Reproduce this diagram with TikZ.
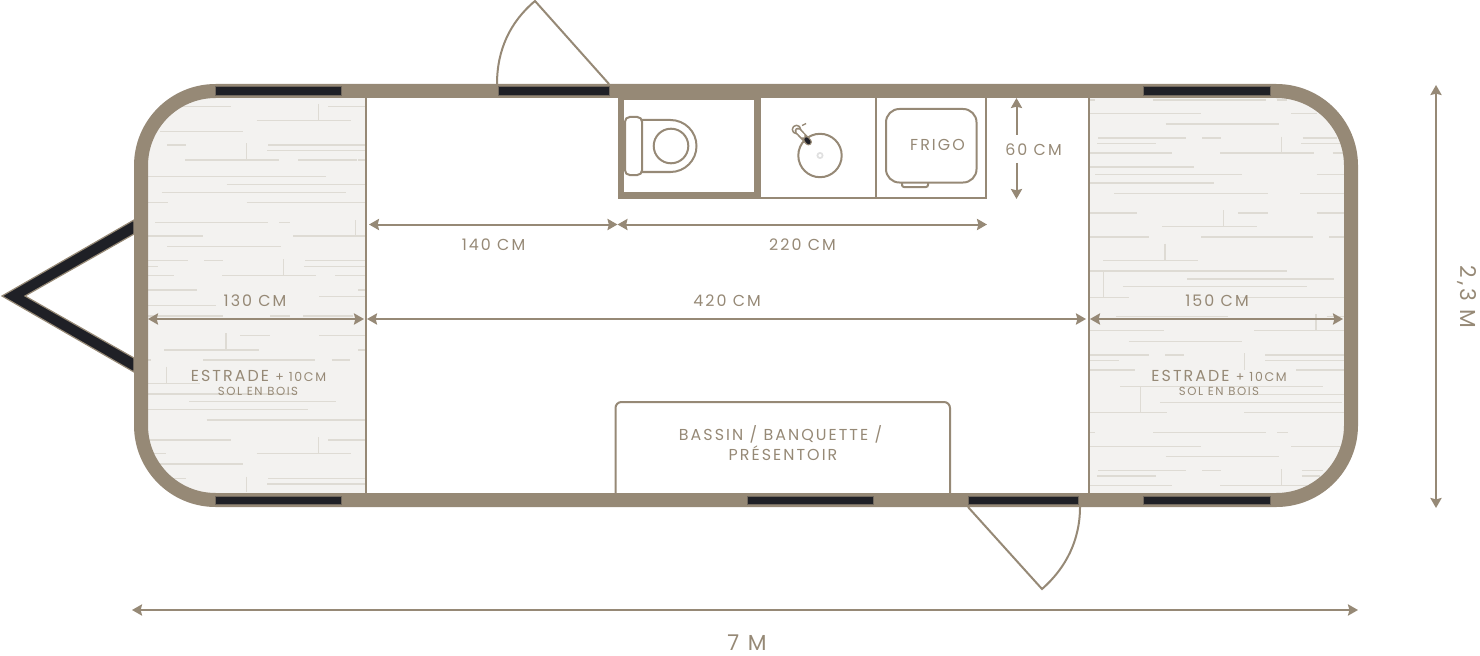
\documentclass[tikz,border=0pt]{standalone}
\usepackage{fontspec}
\setmainfont{Poppins}[LetterSpace=13]
\usetikzlibrary{arrows.meta}
\definecolor{wall}{HTML}{968976}
\definecolor{glass}{HTML}{1F2026}
\definecolor{floorbg}{HTML}{F3F2F0}
\definecolor{plankline}{HTML}{DEDBD4}
\tikzset{dimtip/.tip={Stealth[length=7.5pt, width=8.4pt, inset=1pt]}}
\begin{document}
\begin{tikzpicture}[
						x=0.75pt, y=-0.75pt,
						shell/.style = {draw=wall, line width=10.5pt, rounded corners=56pt},
						plank/.style = {draw=plankline, line width=0.85pt},
						window/.style = {fill=glass, draw=wall!70!glass, line width=0.3pt},
						partition/.style = {draw=wall, line width=1.5pt},
						fitting/.style = {draw=wall, line width=1.5pt},
						dim/.style = {draw=wall, line width=1.5pt, dimtip-dimtip},
						halfdim/.style = {draw=wall, line width=1.5pt, -dimtip},
						label/.style = {text=wall, font=\fontsize{11.9}{13}\selectfont, inner sep=0pt},
						small/.style = {text=wall, font=\fontsize{8.8}{10}\selectfont, inner sep=0pt},
						large/.style = {text=wall, font=\fontsize{16.3}{18}\selectfont, inner sep=0pt}
					]
\useasboundingbox (0,0) rectangle (1480,656);

% floor of both platforms
\begin{scope}
\clip[rounded corners=56pt] (141,91) rectangle (1351,500);
\fill[floorbg] (141,91) rectangle (366,500);
\fill[floorbg] (1089,91) rectangle (1351,500);
\begin{scope}[shift={(0,80)}, x=0.25pt, y=-0.25pt]
\foreach \py/\pa/\pb in {80/530/692, 80/985/1095, 122/770/1053, 154/480/730, 195/502/557, 195/805/1095, 212/802/1095, 240/555/838, 240/895/1070, 240/1075/1095, 290/443/977, 313/680/1095, 338/485/1037, 368/443/505, 368/740/1095, 428/465/803, 428/838/870, 468/443/610, 468/880/1095, 500/502/842, 542/443/565, 542/613/668, 542/915/1095, 560/443/475, 560/912/1095, 587/443/523, 587/667/948, 587/1005/1095, 630/443/590, 630/1075/1095}
	\draw[plank] (\pa,\py) -- (\pb,\py);
\foreach \px/\pa/\pb in {955/72/122, 740/190/240, 1066/420/468, 851/537/587}
	\draw[plank] (\px,\pa) -- (\px,\pb);
\end{scope}
\begin{scope}[shift={(0,290)}, x=0.25pt, y=-0.25pt]
\foreach \py/\pa/\pb in {20/958/1095, 47/443/648, 78/443/670, 78/810/870, 78/910/1060, 137/720/810, 137/957/1095, 180/492/777, 180/1075/1095, 210/443/453, 210/610/946, 210/995/1050, 280/443/600, 312/443/890, 335/568/1008, 358/443/925, 390/620/1095, 450/443/693, 450/985/1095, 491/443/498, 491/770/1053, 522/480/730, 565/502/557, 565/805/1095, 582/802/1095}
	\draw[plank] (\pa,\py) -- (\pb,\py);
\foreach \px/\pa/\pb in {678/130/180, 500/230/280, 955/441/491, 740/560/607}
	\draw[plank] (\px,\pa) -- (\px,\pb);
\end{scope}
\begin{scope}[shift={(1080,80)}, x=0.25pt, y=-0.25pt]
\foreach \py/\pa/\pb in {60/30/45, 60/218/557, 60/592/622, 101/30/363, 101/633/710, 132/257/596, 174/55/318, 174/367/422, 174/668/770, 191/52/228, 191/663/780, 219/30/277, 219/420/703, 219/758/790, 261/30/343, 284/45/485, 284/710/792, 309/30/402, 340/103/565, 340/660/792, 399/30/170, 399/474/565, 399/710/792, 440/247/530, 471/30/208, 471/363/700, 471/748/792, 541/70/353, 573/30/620, 597/322/762, 620/128/680}
	\draw[plank] (\pa,\py) -- (\pb,\py);
\foreach \px/\pa/\pb in {604/170/219, 431/390/440, 255/491/541, 71/573/650}
	\draw[plank] (\px,\pa) -- (\px,\pb);
\end{scope}
\begin{scope}[shift={(1080,290)}, x=0.25pt, y=-0.25pt]
\foreach \py/\pa/\pb in {22/30/148, 22/480/792, 80/108/445, 80/740/792, 122/30/252, 122/523/792, 154/146/485, 195/30/207, 195/256/312, 195/556/792, 212/30/117, 212/556/792, 240/30/166, 240/648/792, 290/121/730, 313/440/792, 337/240/787, 368/30/260, 368/492/792, 427/30/45, 427/219/557, 427/592/623, 469/30/363, 469/633/790, 500/257/596, 541/55/318, 541/367/422, 541/665/730, 558/52/228, 558/665/720, 586/30/277, 586/420/680}
	\draw[plank] (\pa,\py) -- (\pb,\py);
\foreach \px/\pa/\pb in {708/72/122, 493/190/240, 182/290/368, 604/537/586}
	\draw[plank] (\px,\pa) -- (\px,\pb);
\end{scope}
\end{scope}

% hitch
\fill[glass, draw=wall, line width=0.9pt] (134,220) -- (2,296) -- (134,372) -- (134,358) -- (25,296) -- (134,234) -- cycle;

% doors
\draw[fitting] (609,84) -- (535,1) .. controls (510,22) and (497,50) .. (497,84);
\draw[fitting] (968,507) -- (1042,589) .. controls (1066,568) and (1080,540) .. (1080,507);

% partitions
\draw[partition] (366,97) -- (366,494);
\draw[partition] (1089,97) -- (1089,494);

% kitchen block
\fill[wall] (617.5,97) rectangle (761,100);
\draw[draw=wall, line width=5.2pt] (621,97) -- (621,195.6) -- (757.6,195.6) -- (757.6,97);
\draw[partition] (757,198) -- (986,198) -- (986,97);
\draw[partition] (876,97) -- (876,198);

% toilet
\draw[fitting] (642,120) -- (670.5,120) arc (-90:90:26) -- (642,172);
\draw[fitting, rounded corners=3.5pt] (625,117) rectangle (642,175);
\draw[fitting] (671,146) circle (17.3);

% sink
\draw[fitting] (820,155.5) circle (21.7);
\draw[draw=black!12, line width=1.3pt] (820,155.5) circle (2.6);
\draw[draw=wall, line width=1.1pt] (796.5,129.5) circle (4.2);
\draw[draw=wall, line width=1pt] (802,125.5) -- (806,123.5);
\draw[draw=wall, line width=5.2pt, line cap=round] (798,131) -- (808.5,142);
\draw[draw=white, line width=2.9pt, line cap=round] (798,131) -- (803,136);
\draw[draw=glass, line width=3.2pt, line cap=round] (806.5,139.5) -- (808.5,142);

% fridge
\draw[fitting, rounded corners=10pt] (886,109) rectangle (976.5,182.5);
\draw[fitting, rounded corners=1.5pt] (902,183) -- (902,187) -- (928,187) -- (928,183);
\node[label] (frigo) at (937.5,145) {FRIGO};

% bench
\draw[partition, rounded corners=4.5pt] (615.5,494) -- (615.5,402) -- (950,402) -- (950,494);
\node[label] (bench1) at (780.5,434) {BASSIN / BANQUETTE /};
\node[label] (bench2) at (783,453) {PRÉSENTOIR};

% body
\draw[shell] (141,91) rectangle (1351,500);

% windows
\foreach \wa/\wb in {215/341, 498/609, 1143/1270}
	\filldraw[window] (\wa,86.7) rectangle (\wb,95.5);
\foreach \wa/\wb in {215/341, 747/873, 968/1078, 1143/1270}
	\filldraw[window] (\wa,495.7) rectangle (\wb,504.3);

% dimensions
\coordinate (d60a) at (1016.5,98);
\coordinate (d60c) at (1016.5,135);
\coordinate (d60d) at (1016.5,163);
\coordinate (d60b) at (1016.5,199);
\coordinate (d140a) at (369,224.5);
\coordinate (d140b) at (617.5,224.5);
\coordinate (d220b) at (987,224.5);
\coordinate (d130a) at (148,319);
\coordinate (d130b) at (364,319);
\coordinate (d420a) at (367,319);
\coordinate (d420b) at (1086,319);
\coordinate (d150a) at (1090,319);
\coordinate (d150b) at (1343,319);
\coordinate (d7a) at (132,610);
\coordinate (d7b) at (1358,610);
\coordinate (d23a) at (1436,85);
\coordinate (d23b) at (1436,508);

\draw[halfdim] (d60c) -- (d60a);
\draw[halfdim] (d60d) -- (d60b);
\draw[dim] (d140a) -- (d140b);
\draw[dim] (d140b) -- (d220b);
\draw[dim] (d130a) -- (d130b);
\draw[dim] (d420a) -- (d420b);
\draw[dim] (d150a) -- (d150b);
\draw[dim] (d7a) -- (d7b);
\draw[dim] (d23a) -- (d23b);

\node[label] (t60) at (1033.5,150) {60 CM};
\node[label] (t140) at (493.5,245) {140 CM};
\node[label] (t220) at (802.5,245) {220 CM};
\node[label] (t130) at (255,301) {130 CM};
\node[label] (t420) at (727,301) {420 CM};
\node[label] (t150) at (1217,301) {150 CM};
\node[large] (t7) at (747,643) {7 M};
\node[large, rotate=-90] (t23) at (1467,297) {2,3 M};

% platform captions
\node[label] (est1) at (258.5,376) {ESTRADE {\fontsize{9.4}{10}\selectfont + 10CM}};
\node[small] (sol1) at (258,391) {SOL EN BOIS};
\node[label] (est2) at (1219,376) {ESTRADE {\fontsize{9.4}{10}\selectfont + 10CM}};
\node[small] (sol2) at (1219,391) {SOL EN BOIS};
\end{tikzpicture}
\end{document}
